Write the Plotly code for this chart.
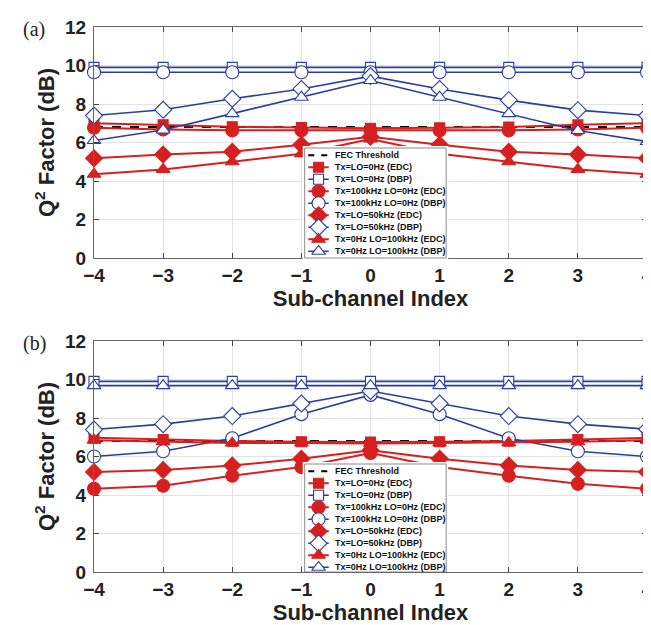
import plotly.graph_objects as go

# ---------------- data ----------------
sub_channel = [-4, -3, -2, -1, 0, 1, 2, 3, 4]
y_tick_vals = [0, 2, 4, 6, 8, 10, 12]
fec_threshold = 6.8

series_names = [
    "Tx=LO=0Hz (EDC)",
    "Tx=LO=0Hz (DBP)",
    "Tx=100kHz LO=0Hz (EDC)",
    "Tx=100kHz LO=0Hz (DBP)",
    "Tx=LO=50kHz (EDC)",
    "Tx=LO=50kHz (DBP)",
    "Tx=0Hz LO=100kHz (EDC)",
    "Tx=0Hz LO=100kHz (DBP)",
]

# panel (a)
a_lo0_edc = [7.0, 6.92, 6.82, 6.78, 6.74, 6.76, 6.8, 6.92, 7.0]
a_lo0_dbp = [9.9, 9.9, 9.9, 9.9, 9.9, 9.9, 9.9, 9.9, 9.9]
a_tx100_edc = [6.77, 6.68, 6.63, 6.63, 6.62, 6.63, 6.63, 6.68, 6.77]
a_tx100_dbp = [9.65, 9.65, 9.65, 9.65, 9.65, 9.65, 9.65, 9.65, 9.65]
a_lo50_edc = [5.18, 5.38, 5.52, 5.88, 6.3, 5.88, 5.52, 5.38, 5.18]
a_lo50_dbp = [7.4, 7.7, 8.27, 8.78, 9.45, 8.78, 8.2, 7.68, 7.4]
a_lo100_edc = [4.35, 4.6, 5.0, 5.42, 6.18, 5.42, 5.0, 4.6, 4.35]
a_lo100_dbp = [6.1, 6.65, 7.5, 8.35, 9.22, 8.35, 7.5, 6.62, 6.05]

# panel (b)
b_lo0_edc = [6.97, 6.88, 6.8, 6.77, 6.75, 6.77, 6.8, 6.88, 6.97]
b_lo0_dbp = [9.9, 9.9, 9.9, 9.9, 9.9, 9.9, 9.9, 9.9, 9.9]
b_tx100_edc = [4.32, 4.48, 5.0, 5.45, 6.18, 5.45, 5.0, 4.58, 4.32]
b_tx100_dbp = [6.0, 6.27, 6.95, 8.2, 9.2, 8.2, 6.95, 6.27, 6.0]
b_lo50_edc = [5.2, 5.3, 5.53, 5.88, 6.33, 5.88, 5.53, 5.3, 5.2]
b_lo50_dbp = [7.4, 7.68, 8.1, 8.75, 9.4, 8.75, 8.1, 7.68, 7.42]
b_lo100_edc = [6.85, 6.77, 6.7, 6.7, 6.68, 6.7, 6.72, 6.77, 6.85]
b_lo100_dbp = [9.68, 9.68, 9.68, 9.68, 9.68, 9.68, 9.68, 9.68, 9.68]

panel_a = [a_lo0_edc, a_lo0_dbp, a_tx100_edc, a_tx100_dbp,
           a_lo50_edc, a_lo50_dbp, a_lo100_edc, a_lo100_dbp]
panel_b = [b_lo0_edc, b_lo0_dbp, b_tx100_edc, b_tx100_dbp,
           b_lo50_edc, b_lo50_dbp, b_lo100_edc, b_lo100_dbp]

# ---------------- styles ----------------
RED = "rgb(214,32,32)"
BLUE = "rgb(40,62,160)"
styles = [
    dict(symbol="square", color=RED, filled=True, size=10, lw=2),
    dict(symbol="square", color=BLUE, filled=False, size=10, lw=1.6),
    dict(symbol="circle", color=RED, filled=True, size=13, lw=2),
    dict(symbol="circle", color=BLUE, filled=False, size=13, lw=1.6),
    dict(symbol="diamond", color=RED, filled=True, size=13, lw=2),
    dict(symbol="diamond", color=BLUE, filled=False, size=13, lw=1.6),
    dict(symbol="triangle-up", color=RED, filled=True, size=12, lw=2),
    dict(symbol="triangle-up", color=BLUE, filled=False, size=12, lw=1.6),
]

W, H = 651, 625
ML, MR, MT, MB = 86, 6, 19, 61
PW, PH = W - ML - MR, H - MT - MB


def px_to_paper_x(px):
    return (px - ML) / PW


def px_to_paper_y(py):
    return (H - MB - py) / PH


def marker_of(st):
    return dict(
        symbol=st["symbol"],
        size=st["size"],
        color=st["color"] if st["filled"] else "white",
        line=dict(color=st["color"], width=1.1),
    )


fig = go.Figure()

panels = [
    dict(data=panel_a, xa="x", ya="y", top=19, bottom=250, lx="x3", ly="y3"),
    dict(data=panel_b, xa="x2", ya="y2", top=333, bottom=564, lx="x4", ly="y4"),
]

for p in panels:
    fig.add_trace(go.Scatter(
        x=sub_channel, y=[fec_threshold] * len(sub_channel), mode="lines",
        line=dict(color="black", width=2, dash="dash"),
        xaxis=p["xa"], yaxis=p["ya"], showlegend=False, hoverinfo="skip"))
    for vals, st, nm in zip(p["data"], styles, series_names):
        fig.add_trace(go.Scatter(
            x=sub_channel, y=vals, mode="lines+markers", name=nm,
            line=dict(color=st["color"], width=st["lw"]),
            marker=marker_of(st), cliponaxis=False,
            xaxis=p["xa"], yaxis=p["ya"], showlegend=False))

axis_common = dict(
    showline=True, linecolor="#666", linewidth=1, mirror="ticks",
    ticks="inside", ticklen=5, tickcolor="#444",
    showgrid=True, gridcolor="#e3e3e3", gridwidth=1, zeroline=False,
    tickfont=dict(family="Arial", size=19, color="#222", weight="bold"),
)

layout = dict(
    width=W, height=H, margin=dict(l=ML, r=MR, t=MT, b=MB),
    paper_bgcolor="white", plot_bgcolor="white", showlegend=False,
    font=dict(family="Arial"),
)

for i, p in enumerate(panels):
    xk = "xaxis" if i == 0 else "xaxis2"
    yk = "yaxis" if i == 0 else "yaxis2"
    ydom = [px_to_paper_y(p["bottom"]), px_to_paper_y(p["top"])]
    layout[xk] = dict(axis_common, domain=[0, 1], range=[-4, 4], tickvals=sub_channel,
                      anchor=p["ya"], ticklabelstandoff=0, ticklabeloverflow="allow",
                      title=dict(text="<b>Sub-channel Index</b>", standoff=3,
                                 font=dict(family="Arial", size=22, color="#222")))
    layout[yk] = dict(axis_common, domain=ydom, range=[0, 12], tickvals=y_tick_vals,
                      anchor=p["xa"], ticklabelstandoff=3,
                      title=dict(text="<b>Q<sup>2</sup> Factor (dB)</b>", standoff=4,
                                 font=dict(family="Arial", size=22, color="#222")))

fig.update_layout(**layout)

# ---------------- custom legends (compact, MATLAB style) ----------------
LEG_X0, LEG_X1 = 299, 442
LEG_ROW_H = 12.0
LEG_PAD_TOP = 7.3
legend_tops = [140, 456]
PAD = 2
annotations = []
for i, p in enumerate(panels):
    top = legend_tops[i]
    bot = p["bottom"]
    bw, bh = LEG_X1 - LEG_X0, bot - top
    lxk = "xaxis3" if i == 0 else "xaxis4"
    lyk = "yaxis3" if i == 0 else "yaxis4"
    dom_top_px = max(top - PAD, MT)
    dom_bot_px = min(bot + PAD, H - MB)
    fig.update_layout(**{
        lxk: dict(domain=[px_to_paper_x(LEG_X0 - PAD), px_to_paper_x(LEG_X1 + PAD)],
                  range=[-PAD, bw + PAD], visible=False, anchor=p["ly"], fixedrange=True),
        lyk: dict(domain=[px_to_paper_y(dom_bot_px), px_to_paper_y(dom_top_px)],
                  range=[dom_bot_px - top, dom_top_px - top], visible=False,
                  anchor=p["lx"], fixedrange=True),
    })
    # box
    fig.add_trace(go.Scatter(
        x=[0, bw, bw, 0, 0], y=[0, 0, bh, bh, 0], mode="lines", fill="toself",
        fillcolor="white", line=dict(color="#8a8a8a", width=1),
        xaxis=p["lx"], yaxis=p["ly"], showlegend=False, hoverinfo="skip"))
    entries = ["FEC Threshold"] + series_names
    for r, nm in enumerate(entries):
        yc = LEG_PAD_TOP + LEG_ROW_H * r
        if r == 0:
            fig.add_trace(go.Scatter(
                x=[3.6, 25.3], y=[yc, yc], mode="lines",
                line=dict(color="black", width=2, dash="6px,7px"),
                xaxis=p["lx"], yaxis=p["ly"], showlegend=False, hoverinfo="skip"))
        else:
            st = styles[r - 1]
            fig.add_trace(go.Scatter(
                x=[3.6, 24.3], y=[yc, yc], mode="lines",
                line=dict(color=st["color"], width=st["lw"]),
                xaxis=p["lx"], yaxis=p["ly"], showlegend=False, hoverinfo="skip"))
            fig.add_trace(go.Scatter(
                x=[14.0], y=[yc], mode="markers", marker=marker_of(st),
                cliponaxis=False,
                xaxis=p["lx"], yaxis=p["ly"], showlegend=False, hoverinfo="skip"))
        annotations.append(dict(
            x=28.8, y=yc, xref=p["lx"], yref=p["ly"], text=nm, showarrow=False,
            xanchor="left", yanchor="middle",
            font=dict(family="Arial", size=9, color="#111", weight="bold")))

# panel labels
annotations.append(dict(x=px_to_paper_x(25), y=px_to_paper_y(21), xref="paper", yref="paper",
                        text="(a)", showarrow=False, xanchor="center", yanchor="middle",
                        font=dict(family="Liberation Serif", size=20, color="#222")))
annotations.append(dict(x=px_to_paper_x(26), y=px_to_paper_y(335), xref="paper", yref="paper",
                        text="(b)", showarrow=False, xanchor="center", yanchor="middle",
                        font=dict(family="Liberation Serif", size=20, color="#222")))
fig.update_layout(annotations=annotations)

fig.write_html("out.html")
